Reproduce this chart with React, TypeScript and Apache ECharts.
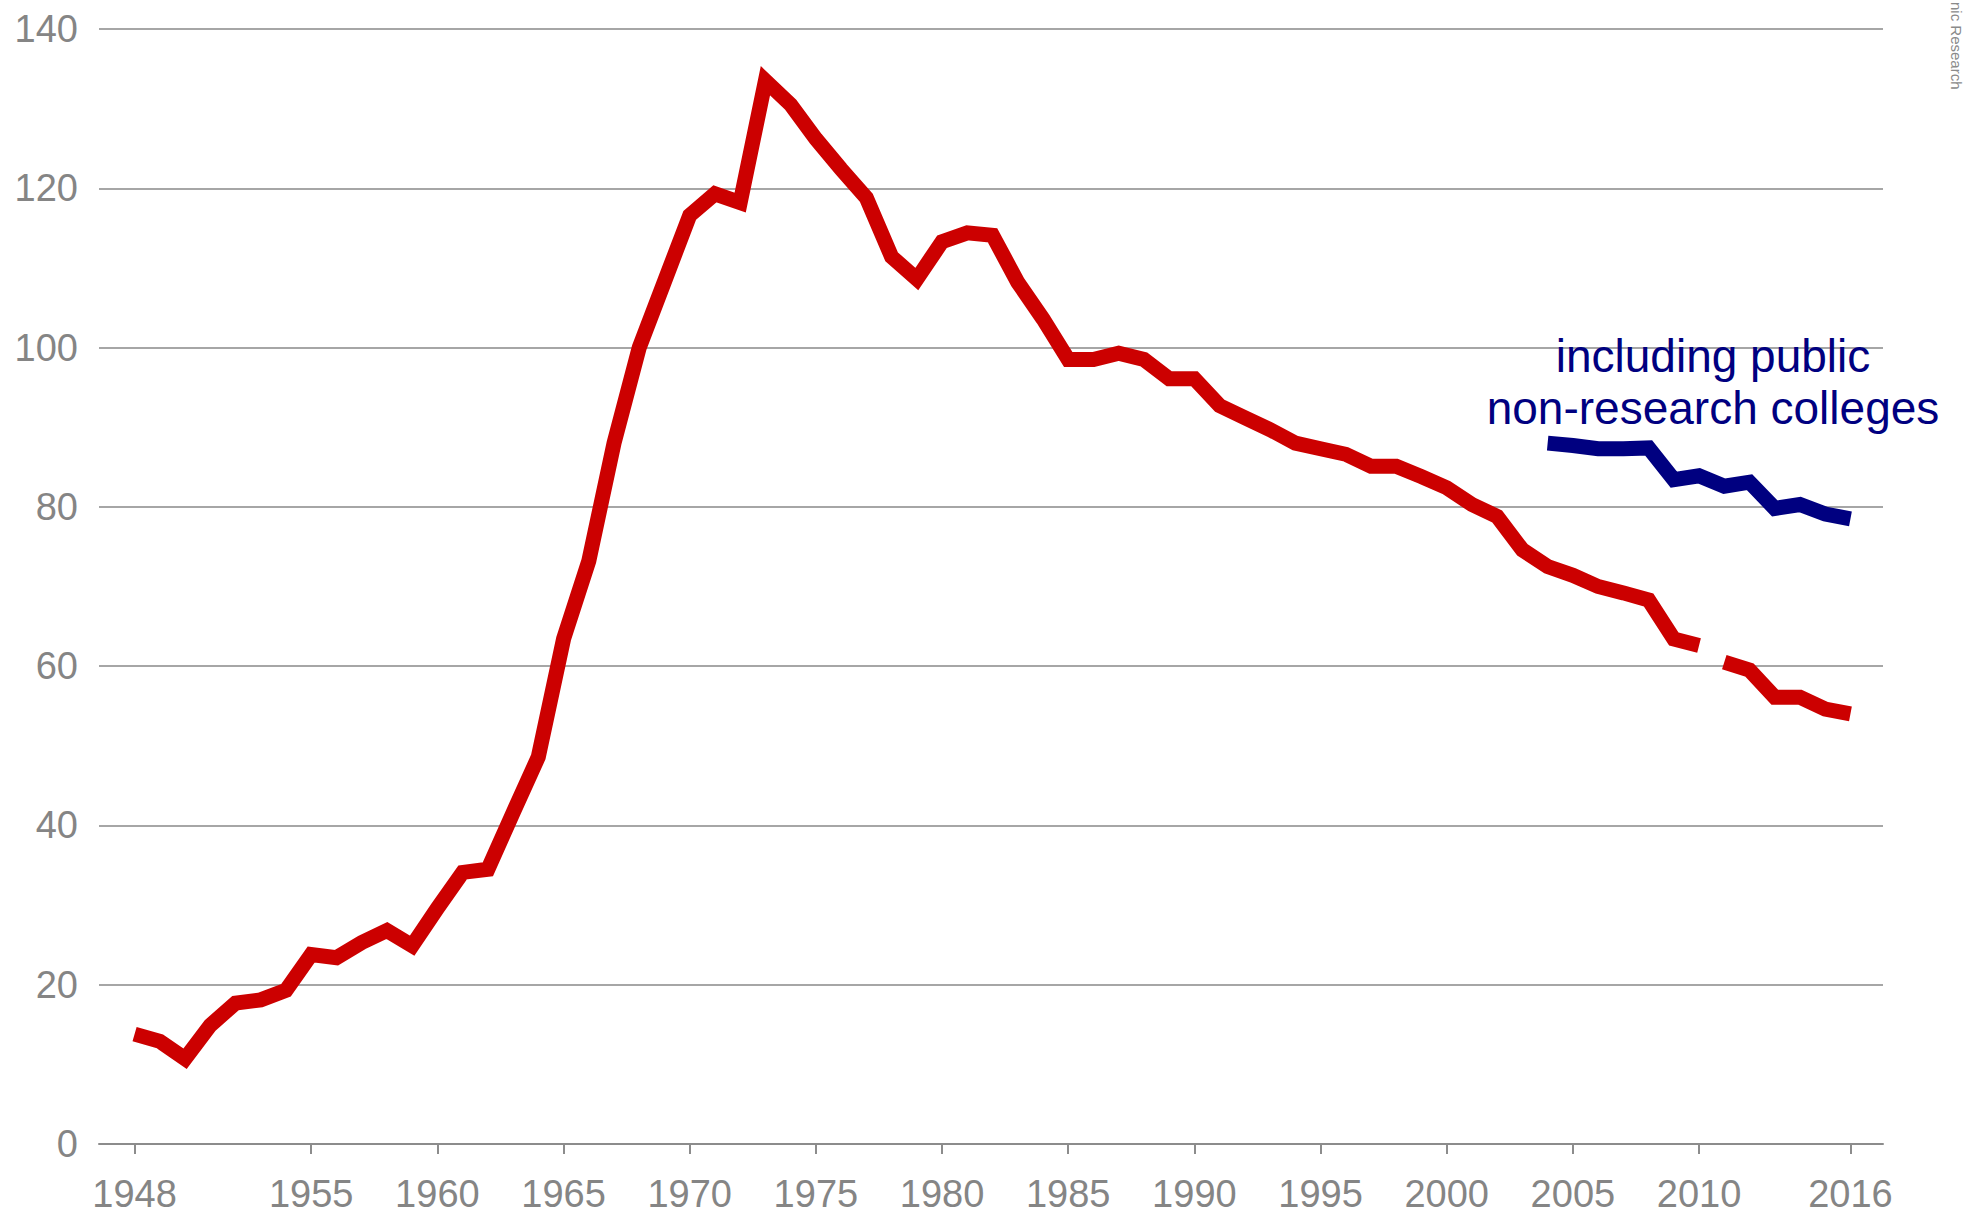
import React, { useEffect, useRef } from "react";
import * as echarts from "echarts";

// Red series: 1948–2010 (continuous), then break, 2011–2016
const redStartA = 1948;
const redValuesA = [
  13.8, 12.9, 10.7, 14.9, 17.7, 18.1, 19.3, 23.8, 23.4, 25.3, 26.8, 24.9,
  29.6, 34.1, 34.5, 41.6, 48.6, 63.4, 73.2, 88.0, 100.0, 108.3, 116.6, 119.3,
  118.2, 133.5, 130.5, 126.2, 122.4, 118.8, 111.4, 108.6, 113.3, 114.4, 114.1,
  108.2, 103.6, 98.5, 98.5, 99.3, 98.5, 96.1, 96.1, 92.7, 91.2, 89.7, 88.0,
  87.3, 86.6, 85.1, 85.1, 83.8, 82.4, 80.3, 78.8, 74.6, 72.5, 71.4, 70.0,
  69.2, 68.3, 63.4, 62.6,
];
const redStartB = 2011;
const redValuesB = [60.5, 59.5, 56.1, 56.1, 54.6, 54.0];

// Blue series: including public non-research colleges, 2004–2016
const blueStart = 2004;
const blueValues = [
  88.0, 87.7, 87.3, 87.3, 87.4, 83.4, 83.9, 82.6, 83.1, 79.8, 80.3, 79.1, 78.5,
];

const xTickYears = [
  1948, 1955, 1960, 1965, 1970, 1975, 1980, 1985, 1990, 1995, 2000, 2005,
  2010, 2016,
];
const yMin = 0;
const yMax = 140;
const yInterval = 20;

const annotationText = "including public\nnon-research colleges";
const sourceText = "nic Research";

const toPairs = (start: number, vals: number[]) =>
  vals.map((v, i) => [start + i, v]);

const FONT = '"Liberation Sans", Arial, sans-serif';
const GRAY = "#858585";
const RED = "#CC0000";
const NAVY = "#000080";

export default function App() {
  const ref = useRef<HTMLDivElement>(null);

  useEffect(() => {
    if (!ref.current) return;
    const chart = echarts.init(ref.current, null, { renderer: "svg" });
    const option: any = {
      animation: false,
      backgroundColor: "#ffffff",
      grid: {
        left: 99,
        right: 83,
        top: 29,
        bottom: 71,
        containLabel: false,
        outerBoundsMode: "none",
      },
      xAxis: {
        type: "value",
        min: 1946.59,
        max: 2017.29,
        axisLine: { show: true, lineStyle: { color: "#8c8c8c", width: 2 } },
        axisTick: {
          show: true,
          length: 10,
          customValues: xTickYears,
          lineStyle: { color: "#8c8c8c", width: 2 },
        },
        axisLabel: {
          customValues: xTickYears,
          color: GRAY,
          fontSize: 38,
          fontFamily: FONT,
          margin: 31,
          formatter: (v: number) => String(v),
        },
        splitLine: { show: false },
      },
      yAxis: {
        type: "value",
        min: yMin,
        max: yMax,
        interval: yInterval,
        axisLine: { show: false },
        axisTick: { show: false },
        axisLabel: {
          color: GRAY,
          fontSize: 38,
          fontFamily: FONT,
          margin: 21,
        },
        splitLine: { show: true, lineStyle: { color: "#a6a6a6", width: 2 } },
      },
      series: [
        {
          type: "line",
          data: toPairs(redStartA, redValuesA),
          showSymbol: false,
          symbol: "none",
          lineStyle: { color: RED, width: 15, join: "miter", cap: "butt" },
          z: 3,
        },
        {
          type: "line",
          data: toPairs(redStartB, redValuesB),
          showSymbol: false,
          symbol: "none",
          lineStyle: { color: RED, width: 15, join: "miter", cap: "butt" },
          z: 3,
        },
        {
          type: "line",
          data: toPairs(blueStart, blueValues),
          showSymbol: false,
          symbol: "none",
          lineStyle: { color: NAVY, width: 15, join: "miter", cap: "butt" },
          z: 3,
        },
      ],
      graphic: [
        {
          type: "text",
          x: 1713,
          y: 382,
          style: {
            text: annotationText,
            fill: NAVY,
            font: `46px ${FONT}`,
            align: "center",
            verticalAlign: "middle",
            lineHeight: 52,
          },
          z: 10,
        },
        {
          type: "text",
          x: 1949,
          y: 2,
          rotation: -Math.PI / 2,
          style: {
            text: sourceText,
            fill: "#8a8a8a",
            font: `15px ${FONT}`,
            align: "left",
            verticalAlign: "bottom",
          },
          z: 10,
        },
      ],
    };
    chart.setOption(option);
    return () => chart.dispose();
  }, []);

  return (
    <div
      ref={ref}
      style={{
        position: "fixed",
        left: 0,
        top: 0,
        width: 1966,
        height: 1215,
        background: "#fff",
      }}
    />
  );
}
